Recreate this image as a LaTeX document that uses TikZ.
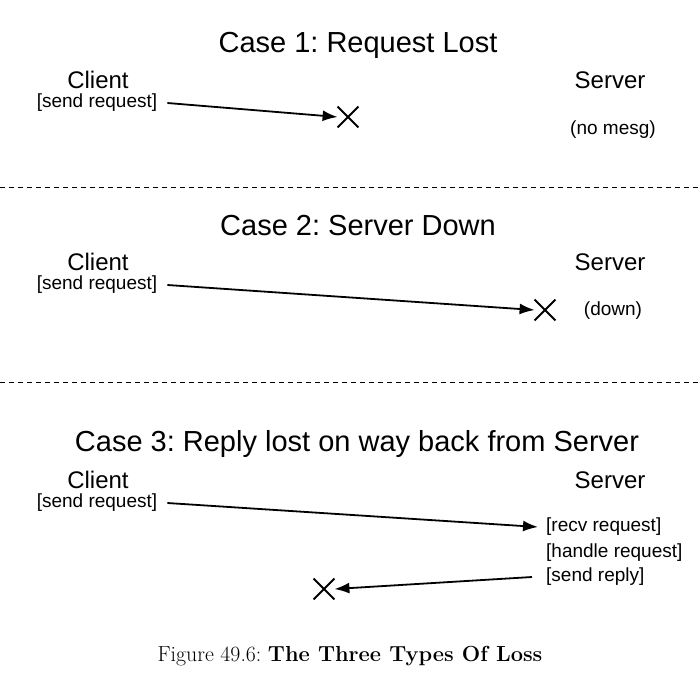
\documentclass[tikz,border=0pt]{standalone}
\usepackage{fontspec}
\setsansfont{Liberation Sans}
\usetikzlibrary{arrows.meta,shapes.misc}
\frenchspacing

\tikzset{
    heading/.style={font=\sffamily\fontsize{29}{34}\selectfont, inner sep=0pt},
    party/.style={font=\sffamily\fontsize{24}{28}\selectfont, inner sep=0pt},
    action/.style={font=\sffamily\fontsize{19}{22}\selectfont, inner sep=0pt},
    lost/.style={cross out, draw, line width=1.8pt, minimum size=19pt, inner sep=0pt},
    msg/.style={line width=1.8pt, -{Latex[length=15pt,width=11pt]}},
    divider/.style={line width=1pt, dash pattern=on 5pt off 4pt}
}

\begin{document}
\begin{tikzpicture}[x=1pt, y=-1pt]
    \useasboundingbox (0,0) rectangle (700,691);

    \node[heading] (title1) at (358, 45) {Case 1: Request Lost};
    \node[party  ] (client1) at ( 98, 80) {Client};
    \node[party  ] (server1) at (610, 80) {Server};
    \node[action ] (send1)   at ( 97,103) {[send request]};
    \node[action ] (nomesg)  at (613,130) {(no mesg)};
    \node[lost   ] (x1)      at (348,117) {};
    \draw[msg] ([xshift=10pt]send1.east) -- (x1.west);

    \draw[divider] (0,187) -- (700,187);

    \node[heading] (title2) at (358,226) {Case 2: Server Down};
    \node[party  ] (client2) at ( 98,262) {Client};
    \node[party  ] (server2) at (610,262) {Server};
    \node[action ] (send2)   at ( 97,285) {[send request]};
    \node[action ] (down)    at (613,311) {(down)};
    \node[lost   ] (x2)      at (545,310) {};
    \draw[msg] ([xshift=10pt]send2.east) -- (x2.west);

    \draw[divider] (0,382) -- (700,382);

    \node[heading] (title3) at (357,444) {Case 3: Reply lost on way back from Server};
    \node[party  ] (client3) at ( 98,480) {Client};
    \node[party  ] (server3) at (610,480) {Server};
    \node[action ] (send3)   at ( 97,503) {[send request]};
    \node[action, anchor=west] (recv)   at (546,527) {[recv request]};
    \node[action, anchor=west] (handle) at (546,553) {[handle request]};
    \node[action, anchor=west] (reply)  at (546,577) {[send reply]};
    \node[lost   ] (x3)      at (324,589) {};
    \draw[msg] ([xshift=10pt]send3.east) -- ([xshift=-8pt]recv.west);
    \draw[msg] ([xshift=-14pt]reply.west) -- (x3.east);

    \node (caption) at (350,656) {\fontsize{21.8}{26}\selectfont Figure 49.6: \textbf{The Three Types Of Loss}};
\end{tikzpicture}
\end{document}
